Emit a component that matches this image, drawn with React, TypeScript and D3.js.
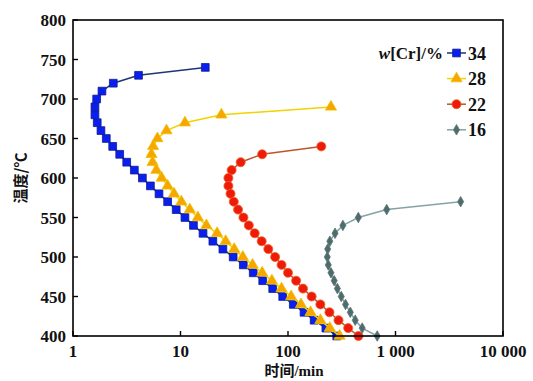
import * as d3 from 'd3';

const W = 533;
const H = 381;
const margin = { top: 20, right: 30, bottom: 45, left: 73 };

const SERIF = '"Liberation Serif", "DejaVu Serif", serif';
const CJK = '"Noto Sans CJK SC", sans-serif';

// time (min) vs temperature (°C), one list per Cr content
const temps34 = [740, 730, 720, 710, 700, 690, 680, 670, 660, 650, 640, 630, 620, 610, 600, 590, 580, 570, 560, 550, 540, 530, 520, 510, 500, 490, 480, 470, 460, 450, 440, 430, 420, 410, 400];
const times34 = [17.0, 4.07, 2.37, 1.86, 1.66, 1.6, 1.6, 1.68, 1.82, 2.04, 2.34, 2.72, 3.16, 3.72, 4.42, 5.25, 6.31, 7.59, 9.12, 11.0, 13.2, 16.2, 20.0, 24.8, 30.9, 38.4, 47.5, 58.2, 72.1, 89.3, 112, 141, 175, 225, 284];

const temps28 = [690, 680, 670, 660, 650, 640, 630, 620, 610, 600, 590, 580, 570, 560, 550, 540, 530, 520, 510, 500, 490, 480, 470, 460, 450, 440, 430, 420, 410, 400];
const times28 = [251, 24.0, 11.0, 7.41, 6.1, 5.56, 5.37, 5.5, 5.96, 6.68, 7.59, 8.71, 10.2, 12.2, 14.5, 17.4, 21.9, 26.3, 31.6, 38.0, 46.8, 57.5, 70.8, 87.1, 107, 132, 162, 200, 245, 302];

const temps22 = [640, 630, 620, 610, 600, 590, 580, 570, 560, 550, 540, 530, 520, 510, 500, 490, 480, 470, 460, 450, 440, 430, 420, 410, 400];
const times22 = [204, 57.5, 36.3, 29.9, 27.9, 27.9, 29.2, 31.3, 34.3, 38.5, 43.2, 49.0, 56.9, 65.6, 75.9, 87.1, 100, 119, 138, 166, 200, 243, 295, 363, 452];

const temps16 = [570, 560, 550, 540, 530, 520, 510, 500, 490, 480, 470, 460, 450, 440, 430, 420, 410, 400];
const times16 = [4036, 828, 451, 324, 274, 245, 234, 232, 237, 251, 269, 288, 313, 343, 380, 422, 490, 676];

const seriesNames = ['34', '28', '22', '16'];
const xTicks = [1, 10, 100, 1000, 10000];
const xTickLabels = ['1', '10', '100', '1 000', '10 000'];
const yTicks = [400, 450, 500, 550, 600, 650, 700, 750, 800];

const styles = [
  { line: '#1d3770', fill: '#0a1ef0', stroke: '#10208a', symbol: d3.symbolSquare, size: 60 },
  { line: '#f2d200', fill: '#f7a600', stroke: '#f0c000', symbol: d3.symbolTriangle, size: 54 },
  { line: '#b8572a', fill: '#ee1a0a', stroke: '#f06020', symbol: d3.symbolCircle, size: 64 },
  { line: '#86a3a3', fill: '#4f6b6b', stroke: '#5a7676', symbol: d3.symbolDiamond, size: 32 },
];

export default function App() {
  const x = d3.scaleLog().domain([1, 10000]).range([margin.left, W - margin.right]);
  const y = d3.scaleLinear().domain([400, 800]).range([H - margin.bottom, margin.top]);

  const all = [
    { t: temps34, m: times34 },
    { t: temps28, m: times28 },
    { t: temps22, m: times22 },
    { t: temps16, m: times16 },
  ];

  const line = d3
    .line<[number, number]>()
    .x((d) => x(d[1]))
    .y((d) => y(d[0]));

  const x0 = margin.left;
  const x1 = W - margin.right;
  const y0 = H - margin.bottom;
  const y1 = margin.top;

  return (
    <svg width={W} height={H} style={{ position: 'absolute', left: 0, top: 0, background: '#fff' }}>
      {all.map((s, i) => {
        const pts: [number, number][] = s.t.map((t, k) => [t, s.m[k]]);
        const st = styles[i];
        const sym = d3.symbol().type(st.symbol).size(st.size)()!;
        return (
          <g key={i}>
            <path d={line(pts)!} fill="none" stroke={st.line} strokeWidth={1.5} />
            {pts.map((p, k) => (
              <path
                key={k}
                d={sym}
                transform={`translate(${x(p[1])},${y(p[0])})`}
                fill={st.fill}
                stroke={st.stroke}
                strokeWidth={0.8}
              />
            ))}
          </g>
        );
      })}

      {/* frame */}
      <rect x={x0} y={y1} width={x1 - x0} height={y0 - y1} fill="none" stroke="#000" strokeWidth={1.6} />

      {xTicks.map((v, i) => (
        <g key={v}>
          <line x1={x(v)} x2={x(v)} y1={y0} y2={y0 - 5} stroke="#000" strokeWidth={1.4} />
          <text
            x={x(v)}
            y={y0 + 21}
            textAnchor="middle"
            fontFamily={SERIF}
            fontWeight="bold"
            fontSize={17}
            fill="#111"
          >
            {xTickLabels[i]}
          </text>
        </g>
      ))}

      {yTicks.map((v) => (
        <g key={v}>
          <line x1={x0} x2={x0 + 5} y1={y(v)} y2={y(v)} stroke="#000" strokeWidth={1.4} />
          <text
            x={x0 - 7}
            y={y(v) + 6}
            textAnchor="end"
            fontFamily={SERIF}
            fontWeight="bold"
            fontSize={17}
            fill="#111"
          >
            {v}
          </text>
        </g>
      ))}

      <text
        x={294}
        y={376}
        textAnchor="middle"
        fontWeight="bold"
        fontSize={15}
        fill="#111"
      >
        <tspan fontFamily={CJK}>时间</tspan>
        <tspan fontFamily={SERIF}>/min</tspan>
      </text>

      <text
        transform={`translate(26,${(y0 + y1) / 2}) rotate(-90)`}
        textAnchor="middle"
        fontFamily={CJK}
        fontWeight="bold"
        fontSize={15}
        fill="#111"
      >
        温度/℃
      </text>

      {/* legend */}
      <text x={443} y={59} textAnchor="end" fontFamily={SERIF} fontWeight="bold" fontSize={17} fill="#111">
        <tspan fontStyle="italic">w</tspan>[Cr]/%
      </text>
      {seriesNames.map((name, i) => {
        const st = styles[i];
        const ly = 53 + i * 25.6;
        const sym = d3.symbol().type(st.symbol).size(st.size)()!;
        return (
          <g key={name}>
            <line x1={447} x2={466} y1={ly} y2={ly} stroke={st.line} strokeWidth={1.5} />
            <path d={sym} transform={`translate(456.5,${ly})`} fill={st.fill} stroke={st.stroke} strokeWidth={0.8} />
            <text x={468} y={ly + 6.5} fontFamily={SERIF} fontWeight="bold" fontSize={18} fill="#111">
              {name}
            </text>
          </g>
        );
      })}
    </svg>
  );
}
